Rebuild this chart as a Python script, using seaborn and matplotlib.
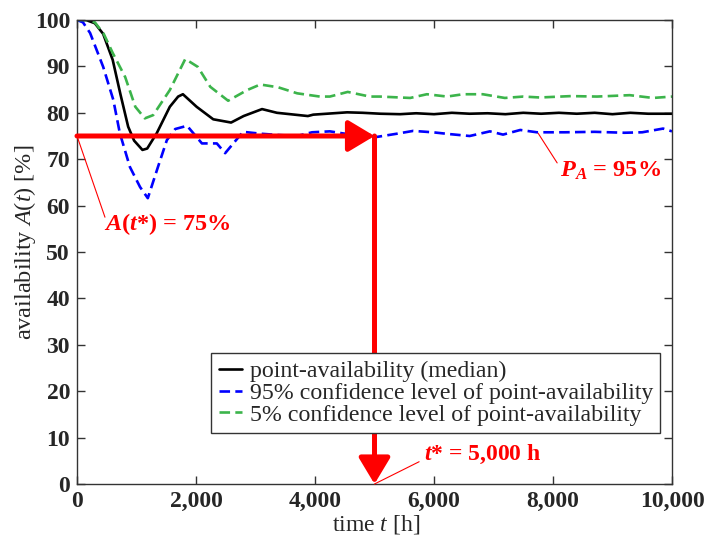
import matplotlib
matplotlib.use("Agg")
import matplotlib.pyplot as plt
import matplotlib.ticker as mticker
import seaborn as sns

# point-availability (median)
t_median = [0, 150, 300, 440, 600, 730, 860, 960, 1100, 1180, 1340, 1560, 1700, 1780,
            2010, 2290, 2590, 2800, 3110, 3360, 3880, 3970, 4540, 4800, 5100, 5430,
            5700, 6000, 6300, 6600, 6900, 7200, 7500, 7800, 8100, 8400, 8700, 9000,
            9300, 9600, 10000]
a_median = [100, 100, 99.3, 97, 91.4, 84, 77, 74, 72, 72.3, 75.6, 81.3, 83.5, 84,
            81.3, 78.6, 77.9, 79.3, 80.8, 80.0, 79.3, 79.6, 80.1, 80.0, 79.8, 79.7,
            79.9, 79.7, 80.0, 79.8, 79.9, 79.7, 80.0, 79.8, 80.0, 79.8, 80.0, 79.7,
            80.0, 79.8, 79.8]

# 95% confidence level
t_95 = [0, 100, 220, 440, 610, 720, 890, 1060, 1190, 1360, 1510, 1650, 1850, 2100,
        2350, 2490, 2790, 3080, 3400, 3700, 3950, 4250, 4500, 4800, 5040, 5380, 5650,
        5980, 6270, 6600, 6940, 7160, 7450, 7730, 8200, 8700, 9200, 9500, 9850, 10000]
a_95 = [100, 99.5, 97.2, 89.9, 82.8, 75.6, 68.3, 64, 61.6, 68.3, 74.1, 76.5, 77.2, 73.4,
        73.4, 71.3, 75.9, 75.5, 75.2, 75.0, 75.8, 76.0, 75.5, 75.3, 74.8, 75.5, 76.1,
        75.8, 75.4, 75.0, 76.0, 75.3, 76.3, 75.8, 75.8, 75.9, 75.7, 75.8, 76.6, 76.0]

# 5% confidence level
t_5 = [0, 150, 300, 450, 600, 810, 980, 1140, 1280, 1560, 1820, 2030, 2240, 2540,
       2860, 3080, 3380, 3700, 4080, 4250, 4550, 4920, 5090, 5600, 5880, 6220, 6490,
       6820, 7190, 7500, 7780, 8300, 8740, 9290, 9680, 10000]
a_5 = [100, 100, 99.5, 97, 92.9, 87.7, 81.3, 78.8, 79.5, 84.9, 91.6, 89.9, 85.6, 82.6,
       84.9, 86.1, 85.5, 84.2, 83.5, 83.5, 84.5, 83.5, 83.5, 83.2, 84.0, 83.5, 84.0,
       84.0, 83.2, 83.5, 83.3, 83.6, 83.5, 83.8, 83.2, 83.5]

labels = ["point-availability (median)",
          "95% confidence level of point-availability",
          "5% confidence level of point-availability"]

t_star = 5000
a_star = 75

sns.set_theme(style="ticks")
plt.rcParams["font.family"] = ["Liberation Serif", "DejaVu Serif"]
plt.rcParams["mathtext.fontset"] = "custom"
plt.rcParams["mathtext.rm"] = "Liberation Serif"
plt.rcParams["mathtext.it"] = "Liberation Serif:italic"
plt.rcParams["mathtext.bf"] = "Liberation Serif:bold"
plt.rcParams["mathtext.bfit"] = "Liberation Serif:italic:bold"

fig = plt.figure(figsize=(7.22, 5.4), dpi=100)
ax = fig.add_axes([77 / 722, 1 - 484 / 540, 595 / 722, 464 / 540])

sns.lineplot(x=t_median, y=a_median, color="black", lw=1.9, ax=ax,
             label=labels[0], sort=False)
sns.lineplot(x=t_95, y=a_95, color="#0000ff", lw=1.9, ls=(0, (4, 2)), ax=ax,
             label=labels[1], sort=False)
sns.lineplot(x=t_5, y=a_5, color="#3cb44b", lw=1.9, ls=(0, (4, 2)), ax=ax,
             label=labels[2], sort=False)

ax.set_xlim(0, 10000)
ax.set_ylim(0, 100)
ax.set_xticks(range(0, 10001, 2000))
ax.set_yticks(range(0, 101, 10))
ax.xaxis.set_major_formatter(mticker.FuncFormatter(lambda v, p: f"{v:,.0f}"))
ax.tick_params(direction="in", top=True, right=True, length=6, width=1,
               labelsize=17, pad=5, color="#333333")
for lab in ax.get_xticklabels() + ax.get_yticklabels():
    lab.set_fontweight("bold")
for sp in ax.spines.values():
    sp.set_color("#333333")
    sp.set_linewidth(1.0)

ax.set_xlabel("time $t$ [h]", fontsize=17)
ax.set_ylabel("availability $A$($t$) [%]", fontsize=17.5)
ax.xaxis.set_label_coords(0.503, -0.062)
ax.yaxis.set_label_coords(-0.066, 0.52)

red = "#ff0000"
# arrows
ax.annotate("", xy=(t_star, a_star), xytext=(0, a_star),
            arrowprops=dict(arrowstyle="-|>,head_length=0.8,head_width=0.48",
                            lw=3.6, color=red, shrinkA=0, shrinkB=0,
                            mutation_scale=20))
ax.annotate("", xy=(t_star, 0), xytext=(t_star, a_star),
            arrowprops=dict(arrowstyle="-|>,head_length=0.8,head_width=0.48",
                            lw=3.6, color=red, shrinkA=0, shrinkB=0,
                            mutation_scale=20))

# leader lines
lead = dict(arrowstyle="-", lw=0.8, color=red, shrinkA=0, shrinkB=0)
ax.annotate("", xy=(0, a_star), xytext=(470, 57.5), arrowprops=lead)
ax.annotate("", xy=(7750, 75.6), xytext=(8070, 69.2), arrowprops=lead)
ax.annotate("", xy=(t_star, 0), xytext=(5750, 4.8), arrowprops=lead)

ax.text(450, 54.8, r"$\mathbfit{A}$($\mathbfit{t}$*) = 75%", color=red,
        fontsize=17.5, fontweight="bold", ha="left", va="baseline")
ax.text(8120, 66.2, r"$\mathbfit{P}_{\mathbfit{A}}$ = 95%", color=red,
        fontsize=17.5, fontweight="bold", ha="left", va="baseline")
ax.text(5830, 5.2, r"$\mathbfit{t}$* = 5,000 h", color=red,
        fontsize=17, fontweight="bold", ha="left", va="baseline")

leg = ax.legend(loc="lower right", bbox_to_anchor=(0.98, 0.11), borderaxespad=0,
                fontsize=17.2, frameon=True, fancybox=False, framealpha=1,
                edgecolor="#333333", labelspacing=0.0, handlelength=1.0,
                handletextpad=0.3, borderpad=0.3)
leg.get_frame().set_linewidth(1.0)

fig.savefig("out.png", dpi=100)
